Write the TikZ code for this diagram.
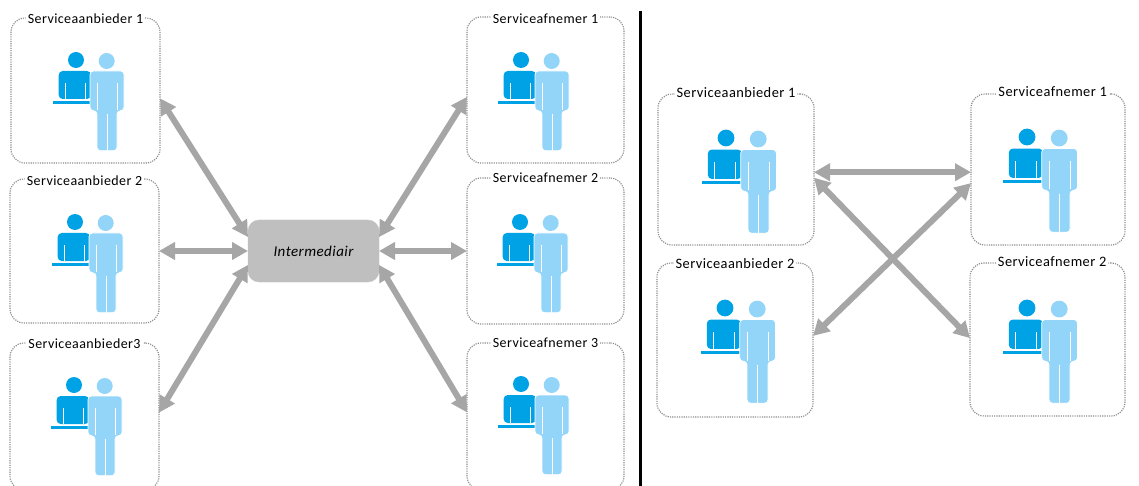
\documentclass[tikz,border=0pt]{standalone}
\usepackage{fontspec}
\setmainfont{Carlito}
\newfontfamily\labelfont[LetterSpace=3,WordSpace=0.6]{Carlito}
\newfontfamily\hubfont[LetterSpace=3,ItalicFont={Carlito Italic}]{Carlito}
\usetikzlibrary{arrows.meta}
\definecolor{darkp}{HTML}{00A2E6}
\definecolor{lightp}{HTML}{92D5F8}
\definecolor{arrowgray}{HTML}{A6A6A6}
\definecolor{boxgray}{HTML}{BFBFBF}
\definecolor{dotgray}{HTML}{8C8C8C}
\tikzset{
  party/.style={draw=dotgray,line width=1.15pt,dash pattern=on 1.15pt off 1.15pt,rounded corners=14pt,inner sep=0pt,outer sep=0pt},
  tag/.style={fill=white,inner sep=2pt,font=\labelfont\fontsize{14}{16}\selectfont,text=black},
  link/.style={draw=arrowgray,line width=6pt,{Triangle[length=16pt,width=17pt]}-{Triangle[length=16pt,width=17pt]}},
  hub/.style={fill=boxgray,draw=boxgray!90!white,rounded corners=11pt,inner sep=0pt,outer sep=0pt,minimum width=131pt,minimum height=62pt,font=\hubfont\itshape\fontsize{15}{17}\selectfont},
}
\newcommand{\personicon}[3]{%
  \begin{scope}[shift={(#1,#2)},scale=#3]
    \fill[darkp] (0,0) circle (8);
    \fill[darkp,rounded corners=4pt] (-17.3,39) -- (-17.3,11) -- (15,11) -- (15,39) -- cycle;
    \fill[darkp] (-23.3,40.7) rectangle (21,43.7);
    \draw[white,line width=0.8pt] (-11,23) -- (-11,39) (9,23) -- (9,39);
    \fill[lightp] (30.7,1) circle (8);
    \draw[white,line width=0.7pt,fill=lightp,rounded corners=3.5pt] (14,11) -- (48,11) -- (48,50.7) -- (41,50.7) -- (41,90.7) -- (21,90.7) -- (21,50.7) -- (14,50.7) -- cycle;
    \draw[white,line width=0.8pt] (21,23) -- (21,50) (41,23) -- (41,50) (31,54) -- (31,90.7);
  \end{scope}%
}
\newcommand{\party}[8][]{% options, name, x0, y0, x1, y1, label, label y
  \node[party,minimum width={(#5-#3)*1pt},minimum height={(#6-#4)*1pt}] (#2) at ({(#3+#5)/2},{(#4+#6)/2}) {};
  \node[tag,#1] (#2t) at ({(#3+#5)/2},#8) {#7};
}
\begin{document}
\begin{tikzpicture}[x=1pt,y=-1pt]
\useasboundingbox (0,0) rectangle (1139,486);
\fill[white] (0,0) rectangle (1139,486);
\begin{scope}
\clip (0,0) rectangle (1139,486);
\party{aa}{11}{18}{160}{163}{Serviceaanbieder 1}{19}
\party{ab}{10}{179}{159}{323}{Serviceaanbieder 2}{181}
\party{ac}{10}{343}{159}{490}{Serviceaanbieder3}{344}
\party{fa}{467}{17}{624}{163}{Serviceafnemer 1}{19}
\party{fb}{467}{178}{624}{324}{Serviceafnemer 2}{178}
\party{fc}{467}{343}{624}{490}{Serviceafnemer 3}{343}
\party[scale=1.03]{ra}{658}{94}{814}{245}{Serviceaanbieder 1}{93}
\party[scale=1.03]{rb}{657}{263}{813}{417}{Serviceaanbieder 2}{264}
\party[scale=1.03,xshift=4.5pt]{sa}{971}{94}{1125}{245}{Serviceafnemer 1}{92}
\party[scale=1.03,xshift=4.5pt]{sb}{970}{263}{1125}{416}{Serviceafnemer 2}{262}
\end{scope}
\personicon{76}{60}{1}
\personicon{75}{222}{1}
\personicon{74}{385}{1}
\personicon{521}{60}{1}
\personicon{520}{222}{1}
\personicon{521}{384}{1}
\personicon{726}{138}{1.05}
\personicon{725}{308}{1.05}
\personicon{1027}{137}{1.05}
\personicon{1027}{308}{1.05}
\node[hub] (im) at (313.5,251) {Intermediair};
\draw[link] (aa.-6) -- (im.168);
\draw[link] (ab.0) -- (im.180);
\draw[link] (ac.3) -- (im.192);
\draw[link] (fa.-175) -- (im.12);
\draw[link] (fb.180) -- (im.0);
\draw[link] (fc.177) -- (im.-12);
\draw[link] (ra.-2.6) -- (ra.-2.6 -| sa.west);
\draw[link] (ra.-6) -- (sb.179);
\draw[link] (rb.3.7) -- (sa.-170);
\coordinate (divtop) at (640.5,11);
\coordinate (divbot) at (640.5,486);
\draw[black,line width=3.6pt] (divtop) -- (divbot);
\end{tikzpicture}
\end{document}
